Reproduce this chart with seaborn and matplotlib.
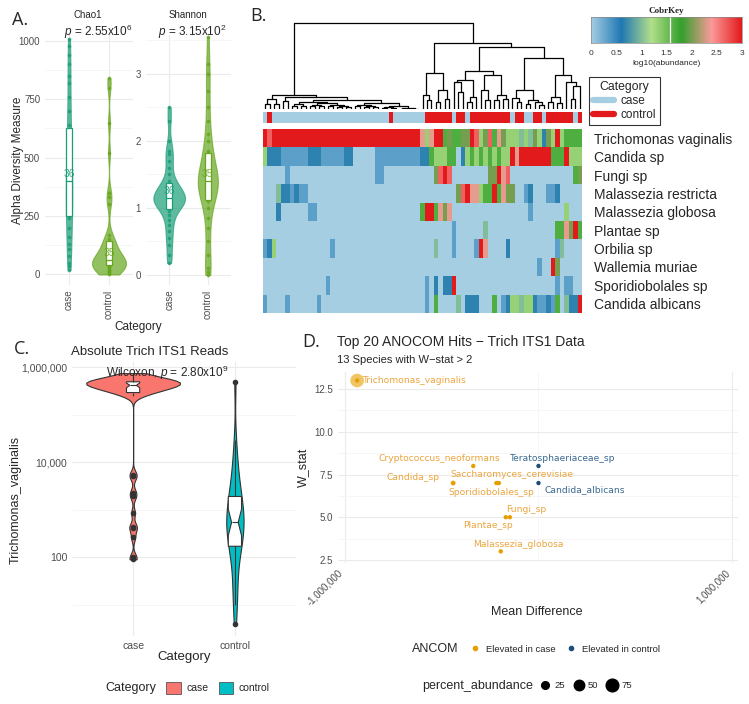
import numpy as np
import pandas as pd
import matplotlib
matplotlib.use("Agg")
import matplotlib.pyplot as plt
import seaborn as sns
from matplotlib.colors import LinearSegmentedColormap, ListedColormap
from matplotlib.lines import Line2D
from matplotlib.patches import Patch
from matplotlib.ticker import FixedLocator

# ---------------- panel A: alpha diversity ----------------
groups = ["case", "control"]
chao1_case = [20, 35, 50, 80, 110, 130, 160, 200, 240, 255,
              265, 280, 300, 330, 350, 360, 380, 395, 405, 430,
              450, 480, 510, 540, 570, 600, 620, 640, 700, 760,
              820, 850, 900, 940, 980, 1010]
chao1_control = [0, 5, 10, 15, 20, 25, 30, 35, 38, 40,
                 45, 48, 50, 55, 58, 60, 60, 62, 70, 80,
                 90, 100, 110, 120, 135, 140, 150, 170, 300, 330,
                 350, 520, 650, 800, 840]
shannon_case = [0.18, 0.3, 0.45, 0.55, 0.65, 0.75, 0.82, 0.9, 0.95, 1.0,
                1.02, 1.05, 1.07, 1.08, 1.1, 1.12, 1.13, 1.14, 1.16, 1.18,
                1.2, 1.22, 1.25, 1.28, 1.3, 1.33, 1.36, 1.4, 1.5, 1.6,
                1.7, 1.8, 1.85, 2.0, 2.3, 2.5]
shannon_control = [0.0, 0.05, 0.1, 0.3, 0.5, 0.7, 0.85, 1.0, 1.1, 1.15,
                   1.2, 1.25, 1.3, 1.32, 1.35, 1.37, 1.39, 1.4, 1.42, 1.45,
                   1.5, 1.55, 1.6, 1.7, 1.75, 1.8, 1.85, 2.0, 2.1, 2.3,
                   2.5, 2.75, 3.0, 3.15, 3.55]
p_chao1 = r"$\it{p}$ = 2.55x10$^{6}$"
p_shannon = r"$\it{p}$ = 3.15x10$^{2}$"

# ---------------- panel B: heatmap ----------------
species = ["Trichomonas vaginalis", "Candida sp", "Fungi sp", "Malassezia restricta",
           "Malassezia globosa", "Plantae sp", "Orbilia sp", "Wallemia muriae",
           "Sporidiobolales sp", "Candida albicans"]
# a = case, c = control, one letter per sample column
sample_category = ("ac" "aaaaaaaaaa" "aaaaaaaaaa" "aaaaaa" "c" "aaaaaaa" "cccccc" "a" "cc" "a"
                   "ccccccccc" "a" "cc" "aa" "cc" "a" "cccccc" "a" "c")
# one digit per sample: log10(abundance) = digit / 3
heat_rows = [
    "9899999999" "9999999999" "9999999999" "999997" "4799565566" "9846857644" "4343642649" "45555",
    "4222111111" "2221111122" "0000011111" "111112" "2544455024" "5454545449" "7999999955" "59444",
    "0000010000" "0000000000" "0000011000" "000000" "0068980000" "0000669780" "0000000000" "00056",
    "0003221211" "0000000000" "0000000000" "000000" "0000000689" "7745595766" "0012000112" "00000",
    "0002000000" "1100000000" "0000000000" "000005" "9957670000" "0000000000" "0001000000" "04000",
    "0000000000" "0000000000" "0000000000" "000000" "0000001000" "0003000000" "0000000005" "57695",
    "1240000000" "0000010000" "0000000000" "000000" "0030001000" "0197000020" "0000000001" "30000",
    "0000000000" "0000000000" "0000000000" "000000" "0000000000" "0000000000" "0000010096" "00000",
    "0000000000" "0000100000" "0000000000" "000000" "1020229000" "0000000000" "0000000001" "01100",
    "1000010000" "0010000000" "0000000000" "000000" "1050000302" "2200050124" "4344211215" "03229",
]
# dendrogram: (height, left, right), leaves are column indices
tree_left = (0.165,
             (0.12, (0.06, 0, 1), (0.06, 2, 3)),
             (0.137,
              (0.09, 4, 5),
              (0.11,
               (0.08, (0.06, (0.04, 6, 7), (0.03, 8, 9)),
                (0.07, (0.05, (0.03, 10, 11), (0.03, 12, 13)),
                 (0.05, (0.03, 14, 15), (0.04, (0.02, 16, 17), (0.02, 18, 19))))),
               (0.07, (0.05, (0.03, 20, 21), (0.04, (0.02, 22, 23), (0.02, 24, 25))),
                (0.04, (0.02, (0.01, 26, 27), (0.01, 28, 29)),
                 (0.01, (0.005, 30, 31), (0.005, (0.003, 32, 33), 34)))))))
tree_right = (0.765,
              (0.42, (0.165, 35, (0.11, 36, 37)), (0.22, (0.08, 38, 39), (0.12, 40, 41))),
              (0.725,
               (0.44, (0.34, (0.31, 42, (0.2, 43, 44)), (0.14, (0.08, 45, 46), 47)),
                (0.39, (0.22, 48, (0.1, 49, 50)), (0.165, (0.1, 51, 52), (0.12, 53, 54)))),
               (0.59, (0.215, (0.13, 55, (0.08, 56, 57)),
                       (0.11, (0.06, 58, 59), (0.08, 60, (0.05, 61, 62)))),
                (0.39, (0.145, (0.08, 63, 64), (0.07, 65, 66)),
                 (0.31, 67, (0.27, (0.12, 68, 69), 70))))))
tree = (1.0, tree_left, tree_right)

# ---------------- panel C: Trich reads ----------------
trich_case = [90, 100, 260, 420, 430, 850, 1900, 2300, 5000, 5500,
              250000, 270000, 290000, 300000, 310000, 320000, 330000, 340000, 350000, 360000,
              370000, 380000, 390000, 400000, 410000, 420000, 430000, 440000, 450000, 455000,
              460000, 465000, 470000, 475000, 480000, 485000, 490000, 495000, 500000, 510000,
              520000, 530000, 540000, 550000, 570000, 590000, 620000, 650000, 700000, 750000]
trich_control = [4, 10, 15, 25, 40, 70, 100, 130, 160, 180,
                 200, 250, 300, 350, 400, 450, 500, 540, 600, 700,
                 800, 900, 1000, 1200, 1500, 1800, 2000, 2500, 3000, 3500,
                 6000, 9000, 12000, 30000, 500000]

# ---------------- panel D: ANCOM ----------------
anc_species = ["Trichomonas_vaginalis", "Cryptococcus_neoformans", "Teratosphaeriaceae_sp",
               "Candida_sp", "Saccharomyces_cerevisiae", "Sporidiobolales_sp",
               "Candida_albicans", "Fungi_sp", "Plantae_sp", "Malassezia_globosa"]
anc_mean_diff = [-937000, -337000, 0, -441000, -217000, -205000, 0, -148000, -169000, -195000]
anc_w = [13, 8, 8, 7, 7, 7, 7, 5, 5, 3]
anc_group = ["Elevated in case", "Elevated in case", "Elevated in control", "Elevated in case",
             "Elevated in case", "Elevated in case", "Elevated in control", "Elevated in case",
             "Elevated in case", "Elevated in case"]
anc_pct = [88, 1, 0.5, 8, 4, 3, 0.8, 2, 2, 1]
# label offsets in points (ggrepel-like placement)
label_offsets = [(4.3, 0, "left"), (-24.5, 5.3, "center"), (17.5, 5.3, "center"),
                 (-28.7, 4.3, "center"), (11.3, 5.8, "center"), (-5.3, -6.8, "center"),
                 (33, -5, "center"), (11.5, 5.3, "center"), (-12.7, -6.2, "center"),
                 (12.7, 5.3, "center")]

W, H = 749, 704
fig = plt.figure(figsize=(W / 100, H / 100), dpi=100)
sns.set_style("white")
plt.rcParams["font.family"] = ["Liberation Sans", "DejaVu Sans"]
plt.rcParams["mathtext.fontset"] = "custom"
plt.rcParams["mathtext.rm"] = "Liberation Sans"
plt.rcParams["mathtext.it"] = "Liberation Sans:italic"


def box(x0, y0, x1, y1):
    return [x0 / W, 1 - y1 / H, (x1 - x0) / W, (y1 - y0) / H]


def ftext(x, y, s, **kw):
    kw.setdefault("ha", "center")
    kw.setdefault("va", "center")
    fig.text(x / W, 1 - y / H, s, **kw)


def minimal(ax):
    for s in ax.spines.values():
        s.set_visible(False)
    ax.grid(True, which="major", color="#EBEBEB", lw=0.8)
    ax.grid(True, which="minor", color="#F3F3F3", lw=0.5)
    ax.tick_params(which="both", length=0, colors="#4D4D4D", labelsize=7)
    ax.set_axisbelow(True)
    ax.set_xlabel("")
    ax.set_ylabel("")


# ---------------- A ----------------
pal_a = {"case": "#1B9E77", "control": "#66A61E"}


def alpha_panel(ax, case_vals, ctrl_vals, widths, bws, yticks, yminor, ylim):
    df = pd.DataFrame({"Category": ["case"] * len(case_vals) + ["control"] * len(ctrl_vals),
                       "value": case_vals + ctrl_vals})
    for i, g in enumerate(groups):
        sub = df[df["Category"] == g]
        sns.violinplot(data=sub, x="Category", y="value", order=groups, color=pal_a[g],
                       linecolor=pal_a[g], cut=0, inner=None, linewidth=0.8, saturation=1,
                       width=widths[i], bw_method=bws[i], alpha=0.7, ax=ax)
        sns.stripplot(data=sub, x="Category", y="value", order=groups, color=pal_a[g],
                      jitter=False, size=2.6, alpha=0.85, zorder=2, ax=ax)
        sns.boxplot(data=sub, x="Category", y="value", order=groups, color="white",
                    linecolor=pal_a[g], linewidth=0.9, width=0.17, showfliers=False,
                    saturation=1, whis=0, showcaps=False, zorder=3, ax=ax)
        ax.annotate(str(len(sub)), xy=(i, sub["value"].median()), xytext=(0, 5),
                    textcoords="offset points", ha="center", va="center",
                    color=pal_a[g], fontsize=7.5, alpha=0.85, zorder=4)
    minimal(ax)
    ax.set_xlim(-0.6, 1.6)
    ax.set_ylim(*ylim)
    ax.set_yticks(yticks)
    ax.yaxis.set_minor_locator(FixedLocator(yminor))
    ax.tick_params(axis="x", labelrotation=90)


axA1 = fig.add_axes(box(45, 35, 133, 285))
alpha_panel(axA1, chao1_case, chao1_control, (0.16, 0.85), (0.42, 0.16),
            [0, 250, 500, 750, 1000], [125, 375, 625, 875], (-45, 1025))
axA2 = fig.add_axes(box(146, 35, 231, 285))
alpha_panel(axA2, shannon_case, shannon_control, (0.82, 0.52), (0.23, 0.27),
            [0, 1, 2, 3], [0.5, 1.5, 2.5, 3.5], (-0.15, 3.58))

ftext(20, 20, "A.", fontsize=13, family="Open Sans")
ftext(88, 15, "Chao1", fontsize=7)
ftext(188, 15, "Shannon", fontsize=7)
ftext(98, 32, p_chao1, fontsize=8.5)
ftext(192, 32, p_shannon, fontsize=8.5)
ftext(18, 160, "Alpha Diversity Measure", fontsize=8.5, rotation=90)
ftext(138, 327, "Category", fontsize=8.5)

# ---------------- B ----------------
heat_colors = ["#A6CEE3", "#1F78B4", "#B2DF8A", "#33A02C", "#FB9A99", "#E31A1C"]
heat_cmap = LinearSegmentedColormap.from_list("cobr", heat_colors)
cat_colors = {"a": "#A6CEE3", "c": "#E31A1C"}
n_cols = len(sample_category)
heat = np.array([[int(ch) / 3 for ch in row] for row in heat_rows])

axDen = fig.add_axes(box(263, 22, 582, 109))


def draw_tree(ax, node):
    if isinstance(node, int):
        return node + 0.5, 0.0
    h, left, right = node
    lx, lh = draw_tree(ax, left)
    rx, rh = draw_tree(ax, right)
    ax.plot([lx, lx, rx, rx], [lh, h, h, rh], color="black", lw=0.9)
    return (lx + rx) / 2, h


draw_tree(axDen, tree)
axDen.set_xlim(0, n_cols)
axDen.set_ylim(0, 1.01)
axDen.axis("off")

axCat = fig.add_axes(box(263, 112, 582, 123))
cat_codes = np.array([[0 if ch == "a" else 1 for ch in sample_category]])
sns.heatmap(cat_codes, cmap=ListedColormap([cat_colors["a"], cat_colors["c"]]), vmin=0, vmax=1,
            cbar=False, xticklabels=False, yticklabels=False, ax=axCat)

axHeat = fig.add_axes(box(263, 129, 582, 313))
sns.heatmap(heat, cmap=heat_cmap, vmin=0, vmax=3, cbar=False, xticklabels=False,
            yticklabels=species, ax=axHeat)
axHeat.yaxis.tick_right()
axHeat.tick_params(axis="y", length=0, pad=9, labelsize=10, labelrotation=0)

axKey = fig.add_axes(box(591, 17, 742, 43))
axKey.imshow(np.linspace(0, 3, 256)[None, :], aspect="auto", cmap=heat_cmap,
             extent=[0, 3, 0, 1])
axKey.axvline(1.57, color="white", lw=0.9)
axKey.set_yticks([])
axKey.set_xticks([0, 0.5, 1, 1.5, 2, 2.5, 3])
axKey.set_xticklabels(["0", "0.5", "1", "1.5", "2", "2.5", "3"])
axKey.tick_params(axis="x", labelsize=6, length=3, width=0.6, colors="#333333", pad=2)
axKey.set_xlabel("log10(abundance)", fontsize=6, labelpad=2)
axKey.set_title("CobrKey", fontsize=6.5, family="Liberation Serif", weight="bold", pad=3)
for s in axKey.spines.values():
    s.set_color("#888888")
    s.set_linewidth(0.5)

legB = fig.legend(handles=[Line2D([], [], color=cat_colors["a"], lw=4.5, solid_capstyle="round"),
                           Line2D([], [], color=cat_colors["c"], lw=4.5, solid_capstyle="round")],
                  labels=["case", "control"], title="Category", loc="upper left",
                  bbox_to_anchor=(589 / W, 1 - 77 / H), fontsize=8.5, title_fontsize=8.8,
                  frameon=True, fancybox=False, edgecolor="black", handlelength=1.8,
                  borderpad=0.35, labelspacing=0.15, handletextpad=0.5, borderaxespad=0)
legB.get_frame().set_linewidth(0.8)
ftext(258, 16, "B.", fontsize=13, family="Open Sans")

# ---------------- C ----------------
pal_c = {"case": "#F8766D", "control": "#00BFC4"}
dfC = pd.DataFrame({"Category": ["case"] * len(trich_case) + ["control"] * len(trich_control),
                    "Trichomonas_vaginalis": trich_case + trich_control})
axC = fig.add_axes(box(72, 362, 296, 636))
c_widths = {"case": 0.92, "control": 0.17}
c_bws = {"case": 0.08, "control": 0.35}
for g in groups:
    sub = dfC[dfC["Category"] == g]
    sns.violinplot(data=sub, x="Category", y="Trichomonas_vaginalis", order=groups,
                   color=pal_c[g], log_scale=True, cut=0, inner=None, linewidth=0.8,
                   linecolor="#333333", saturation=1, width=c_widths[g], bw_method=c_bws[g],
                   ax=axC)
sns.boxplot(data=dfC, x="Category", y="Trichomonas_vaginalis", order=groups, log_scale=True,
            color="white", linecolor="#333333", linewidth=0.8, width=0.13, saturation=1,
            notch=True, showcaps=False, fliersize=3, zorder=3,
            flierprops={"marker": "o", "markerfacecolor": "#333333", "markeredgecolor": "#333333"},
            ax=axC)
minimal(axC)
axC.set_xlim(-0.6, 1.6)
axC.set_ylim(10 ** 0.34, 10 ** 6.11)
axC.yaxis.set_major_locator(FixedLocator([100, 1e4, 1e6]))
axC.yaxis.set_minor_locator(FixedLocator([10, 1e3, 1e5]))
axC.set_yticklabels(["100", "10,000", "1,000,000"])
axC.yaxis.set_minor_formatter(plt.NullFormatter())
axC.tick_params(labelsize=7.5)
ftext(22, 349, "C.", fontsize=13, family="Open Sans")
ftext(150, 352, "Absolute Trich ITS1 Reads", fontsize=9.5)
ftext(167, 373, r"Wilcoxon, $\it{p}$ = 2.80x10$^{9}$", fontsize=8.5)
ftext(184, 657, "Category", fontsize=9.5)
ftext(16, 500, "Trichomonas_vaginalis", fontsize=9, rotation=90)
ftext(131, 688, "Category", fontsize=9)
fig.legend(handles=[Patch(facecolor=pal_c[g], edgecolor="#555555", lw=0.6, label=g) for g in groups],
           loc="center left", bbox_to_anchor=(157 / W, 1 - 688 / H), ncol=2, frameon=False,
           fontsize=7.5, handlelength=1.4, handleheight=1.4, handletextpad=0.5, columnspacing=1.0)

# ---------------- D ----------------
pal_d = {"Elevated in case": "#E69F00", "Elevated in control": "#1D4E7A"}
text_d = {"Elevated in case": "#EBA53D", "Elevated in control": "#3A6890"}
dfD = pd.DataFrame({"species": anc_species, "mean_diff": anc_mean_diff, "W_stat": anc_w,
                    "ANCOM": anc_group, "percent_abundance": anc_pct})
size_range = (4, 110)
axD = fig.add_axes(box(338, 372, 738, 563))
sns.scatterplot(data=dfD, x="mean_diff", y="W_stat", hue="ANCOM", palette=pal_d,
                size="percent_abundance", sizes=size_range, size_norm=(0, 100),
                alpha=0.6, linewidth=0, legend=False, ax=axD)
sns.scatterplot(data=dfD, x="mean_diff", y="W_stat", hue="ANCOM", palette=pal_d,
                s=10, linewidth=0, legend=False, ax=axD)
for i, row in dfD.iterrows():
    dx, dy, ha = label_offsets[i]
    axD.annotate(row["species"], xy=(row["mean_diff"], row["W_stat"]), xytext=(dx, dy),
                 textcoords="offset points", ha=ha, va="center", fontsize=6.6,
                 color=text_d[row["ANCOM"]], family="DejaVu Sans")
minimal(axD)
axD.set_xlim(-1.036e6, 1.031e6)
axD.set_ylim(2.32, 13.5)
axD.set_xticks([-1e6, 1e6])
axD.set_xticklabels(["-1,000,000", "1,000,000"], rotation=45, ha="right", va="top")
axD.xaxis.set_minor_locator(FixedLocator([0]))
axD.set_yticks([2.5, 5, 7.5, 10, 12.5])
axD.set_yticklabels(["2.5", "5.0", "7.5", "10.0", "12.5"])
axD.yaxis.set_minor_locator(FixedLocator([3.75, 6.25, 8.75, 11.25]))
ftext(311, 342, "D.", fontsize=13, family="Open Sans")
ftext(337, 342, "Top 20 ANOCOM Hits \u2212 Trich ITS1 Data", fontsize=10, ha="left")
ftext(337, 360, "13 Species with W\u2212stat > 2", fontsize=8, ha="left")
ftext(303, 467, "W_stat", fontsize=9, rotation=90)
ftext(537, 612, "Mean Difference", fontsize=9)

ftext(435, 649, "ANCOM", fontsize=9)
fig.legend(handles=[Line2D([], [], marker="o", ls="", color=pal_d[g], markersize=3, label=g)
                    for g in pal_d],
           loc="center left", bbox_to_anchor=(462 / W, 1 - 649 / H), ncol=2, frameon=False,
           fontsize=6.8, handlelength=1.0, handletextpad=0.6, columnspacing=1.2)
ftext(478, 686, "percent_abundance", fontsize=9)
size_levels = [25, 50, 75]
fig.legend(handles=[Line2D([], [], marker="o", ls="", color="black", label=str(v),
                           markersize=np.sqrt(size_range[0] + (size_range[1] - size_range[0]) * v / 100))
                    for v in size_levels],
           loc="center left", bbox_to_anchor=(532 / W, 1 - 686 / H), ncol=3, frameon=False,
           fontsize=6.8, handlelength=1.0, handletextpad=0.5, columnspacing=0.9)

fig.savefig("out.png", dpi=100)
